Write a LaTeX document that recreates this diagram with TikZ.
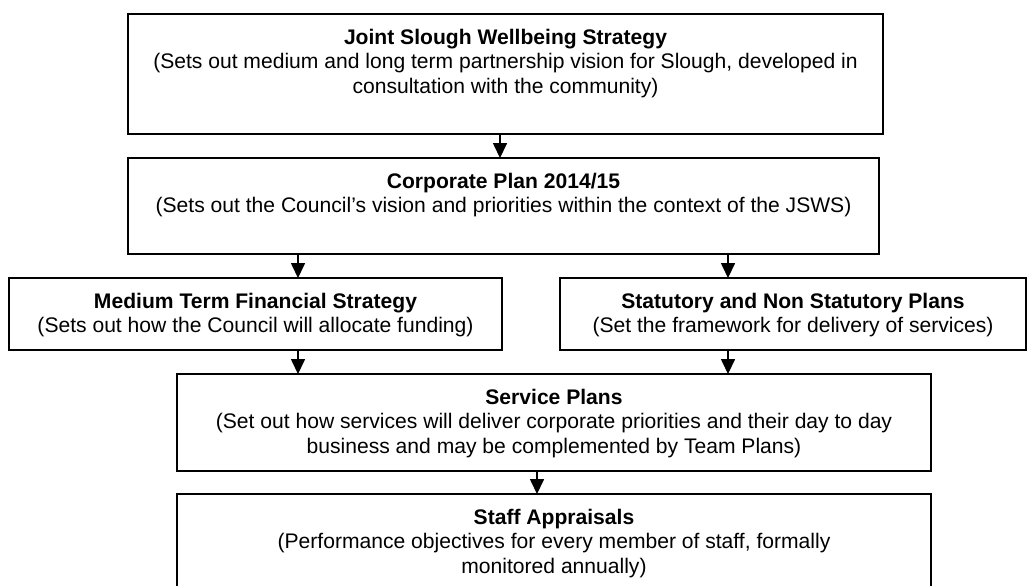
\documentclass[tikz,border=0pt]{standalone}
\usepackage{fontspec}
\setmainfont{Liberation Sans}
\usetikzlibrary{arrows.meta}
\begin{document}
\begin{tikzpicture}[x=0.2mm, y=-0.2mm,
    box/.style={draw, line width=1.1pt, anchor=north west, inner sep=0pt, outer sep=0pt},
    txt/.style={anchor=north, align=center, inner sep=0pt, yshift=-8.3pt, font=\fontsize{12}{13.9}\selectfont},
    arr/.style={-{Triangle[width=8pt,length=8.5pt]}, line width=0.7pt}]
        \path[use as bounding box, clip] (0,0) rectangle (1028,585);

        \node[box, minimum width=15.1cm, minimum height=2.4cm] (jsws) at (128,14) {};
        \node[box, minimum width=15.02cm, minimum height=1.92cm] (corp) at (128,158) {};
        \node[box, minimum width=9.86cm, minimum height=1.44cm] (mtfs) at (9,278) {};
        \node[box, minimum width=9.32cm, minimum height=1.44cm] (stat) at (560,278) {};
        \node[box, minimum width=15.08cm, minimum height=1.94cm] (serv) at (177,374) {};
        \node[box, minimum width=15.08cm, minimum height=2.04cm] (staff) at (177,494) {};

        \node[txt] (jswsText) at (jsws.north) {\textbf{Joint Slough Wellbeing Strategy}\\(Sets out medium and long term partnership vision for Slough, developed in\\consultation with the community)};
        \node[txt] (corpText) at (corp.north) {\textbf{Corporate Plan 2014/15}\\(Sets out the Council’s vision and priorities within the context of the JSWS)};
        \node[txt] (mtfsText) at (mtfs.north) {\textbf{Medium Term Financial Strategy}\\(Sets out how the Council will allocate funding)};
        \node[txt] (statText) at (stat.north) {\textbf{Statutory and Non Statutory Plans}\\(Set the framework for delivery of services)};
        \node[txt] (servText) at (serv.north) {\textbf{Service Plans}\\(Set out how services will deliver corporate priorities and their day to day\\business and may be complemented by Team Plans)};
        \node[txt] (staffText) at (staff.north) {\textbf{Staff Appraisals}\\(Performance objectives for every member of staff, formally\\monitored annually)};

        % x positions of the arrows
        \coordinate (a1) at (500,0);
        \coordinate (a2) at (298,0);
        \coordinate (a3) at (728,0);
        \coordinate (a4) at (537,0);

        \draw[arr] (a1 |- jsws.south) -- (a1 |- corp.north);
        \draw[arr] (a2 |- corp.south) -- (a2 |- mtfs.north);
        \draw[arr] (a3 |- corp.south) -- (a3 |- stat.north);
        \draw[arr] (a2 |- mtfs.south) -- (a2 |- serv.north);
        \draw[arr] (a3 |- stat.south) -- (a3 |- serv.north);
        \draw[arr] (a4 |- serv.south) -- (a4 |- staff.north);
      \end{tikzpicture}
\end{document}
